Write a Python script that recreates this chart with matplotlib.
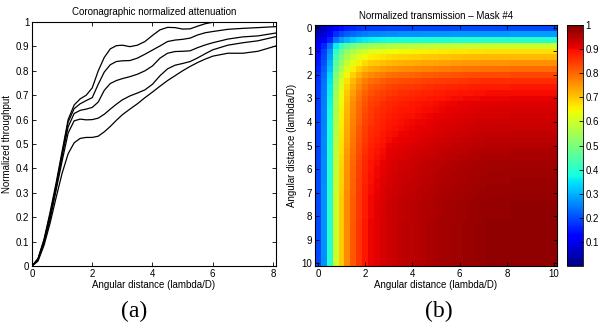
"""Coronagraph throughput curves (a) and normalized transmission map (b)."""
import numpy as np
import matplotlib
matplotlib.use("Agg")
import matplotlib.pyplot as plt

plt.rcParams['font.family'] = ['Liberation Sans', 'DejaVu Sans']
plt.rcParams['font.size'] = 7

# (a) throughput curves
x_dist = [0, 0.2, 0.4, 0.6, 0.8, 1.0, 1.2, 1.4, 1.6, 1.8, 2.0, 2.2, 2.4, 2.6, 2.8, 3.0,
          3.25, 3.5, 3.75, 4.0, 4.25, 4.5, 4.75, 5.0, 5.25, 5.5, 5.75, 6.0, 6.5, 7.0, 7.5, 8.1]
curve1 = [0, 0.03, 0.11, 0.22, 0.34, 0.47, 0.60, 0.66, 0.685, 0.70, 0.73, 0.80, 0.855, 0.89, 0.903, 0.905,
          0.899, 0.905, 0.92, 0.945, 0.968, 0.978, 0.977, 0.971, 0.972, 0.983, 0.993, 0.999, 1.0, 1.0, 1.0, 1.0]
curve2 = [0, 0.03, 0.105, 0.21, 0.33, 0.46, 0.59, 0.645, 0.665, 0.678, 0.69, 0.745, 0.795, 0.825, 0.838, 0.841,
          0.842, 0.852, 0.868, 0.885, 0.902, 0.92, 0.926, 0.929, 0.934, 0.947, 0.956, 0.961, 0.97, 0.974, 0.977, 0.981]
curve3 = [0, 0.028, 0.10, 0.20, 0.32, 0.45, 0.57, 0.625, 0.638, 0.643, 0.65, 0.672, 0.72, 0.748, 0.76, 0.768,
          0.776, 0.786, 0.80, 0.82, 0.852, 0.872, 0.879, 0.88, 0.882, 0.895, 0.906, 0.915, 0.93, 0.939, 0.943, 0.955]
curve4 = [0, 0.025, 0.095, 0.19, 0.31, 0.43, 0.545, 0.595, 0.602, 0.599, 0.60, 0.606, 0.622, 0.643, 0.663, 0.681,
          0.697, 0.709, 0.722, 0.745, 0.78, 0.808, 0.823, 0.83, 0.838, 0.853, 0.87, 0.886, 0.905, 0.915, 0.923, 0.94]
curve5 = [0, 0.02, 0.085, 0.175, 0.28, 0.38, 0.46, 0.505, 0.523, 0.527, 0.527, 0.532, 0.55, 0.572, 0.597, 0.62,
          0.643, 0.665, 0.69, 0.713, 0.737, 0.76, 0.78, 0.80, 0.818, 0.834, 0.848, 0.86, 0.872, 0.872, 0.88, 0.902]

# (b) transmission map: profile along x (columns) and along y (rows), step 0.25 from 0 to 10
grid_pos = np.arange(0, 10.01, 0.25)
col_profile = [0.20, 0.27, 0.40, 0.60, 0.70, 0.77, 0.82, 0.86, 0.89, 0.91, 0.92, 0.93, 0.94, 0.945, 0.95, 0.953,
               0.956, 0.96, 0.963, 0.966, 0.97, 0.973, 0.976, 0.978, 0.98, 0.982, 0.984, 0.986, 0.988, 0.99, 0.99,
               0.99, 0.99, 0.992, 0.992, 0.992, 0.992, 0.992, 0.992, 0.992, 0.992]
row_profile = [0.20, 0.28, 0.40, 0.60, 0.68, 0.72, 0.76, 0.80, 0.84, 0.87, 0.89, 0.905, 0.915, 0.925, 0.93, 0.935,
               0.94, 0.945, 0.95, 0.955, 0.96, 0.965, 0.97, 0.975, 0.978, 0.98, 0.982, 0.984, 0.986, 0.988, 0.99,
               0.99, 0.99, 0.992, 0.992, 0.992, 0.992, 0.992, 0.992, 0.992, 0.992]
transmission = np.outer(row_profile, col_profile)

fig = plt.figure(figsize=(6.0, 3.27), dpi=100)

ax1 = fig.add_axes([0.0533, 0.1865, 0.4067, 0.7462])
for c in [curve1, curve2, curve3, curve4, curve5]:
    ax1.plot(x_dist, c, color='black', lw=0.9)
ax1.set_xlim(0, 8.1)
ax1.set_ylim(0, 1)
ax1.set_xticks([0, 2, 4, 6, 8])
ax1.set_yticks(np.arange(0, 1.01, 0.1))
ax1.set_yticklabels(['0', '0.1', '0.2', '0.3', '0.4', '0.5', '0.6', '0.7', '0.8', '0.9', '1'])
ax1.tick_params(direction='in', top=True, right=True, length=3, width=0.6, pad=2)
ax1.set_xlabel("Angular distance (lambda/D)", labelpad=1)
ax1.set_ylabel("Normalized throughput", labelpad=3)
ax1.set_title("Coronagraphic normalized attenuation", fontsize=7, pad=5)

ax2 = fig.add_axes([0.525, 0.1865, 0.4033, 0.737])
im = ax2.imshow(transmission, cmap='jet', vmin=0, vmax=1, aspect='auto', interpolation='nearest',
                extent=[grid_pos[0] - 0.125, grid_pos[-1] + 0.125, grid_pos[-1] + 0.125, grid_pos[0] - 0.125])
ax2.set_xticks([0, 2, 4, 6, 8, 10])
ax2.set_yticks(range(0, 11))
ax2.tick_params(direction='in', top=True, right=True, length=3, width=0.6, pad=2)
ax2.set_xlabel("Angular distance (lambda/D)", labelpad=1)
ax2.set_ylabel("Angular distance (lambda/D)", labelpad=3)
ax2.set_title("Normalized transmission \u2013 Mask #4", fontsize=7, pad=4)

cax = fig.add_axes([0.945, 0.1865, 0.0267, 0.737])
cb = fig.colorbar(im, cax=cax)
cb.set_ticks([0.1, 0.2, 0.3, 0.4, 0.5, 0.6, 0.7, 0.8, 0.9, 1.0])
cb.set_ticklabels(['0.1', '0.2', '0.3', '0.4', '0.5', '0.6', '0.7', '0.8', '0.9', '1'])
cb.ax.tick_params(direction='in', length=3, width=0.6, pad=2)
cb.outline.set_linewidth(0.6)

fig.text(0.223, 0.03, "(a)", family='Liberation Serif', fontsize=17, ha='center')
fig.text(0.732, 0.03, "(b)", family='Liberation Serif', fontsize=17, ha='center')

fig.savefig("out.png", dpi=100)
